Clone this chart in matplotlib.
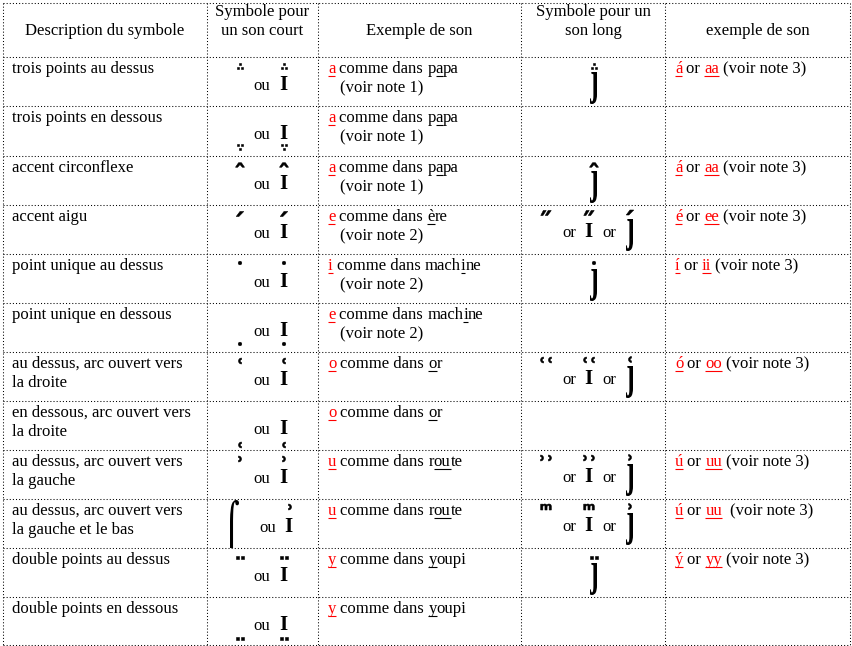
import matplotlib
matplotlib.use("Agg")
import matplotlib.pyplot as plt
from matplotlib.textpath import TextPath
from matplotlib.patches import PathPatch
from matplotlib.font_manager import FontProperties
from matplotlib.transforms import Affine2D

# --- contenu du tableau ---
headers = [["Description du symbole"], ["Symbole pour", "un son court"], ["Exemple de son"],
           ["Symbole pour un", "son long"], ["exemple de son"]]

descriptions = [
    ["trois points au dessus"],
    ["trois points en dessous"],
    ["accent circonflexe"],
    ["accent aigu"],
    ["point unique au dessus"],
    ["point unique en dessous"],
    ["au dessus, arc ouvert vers", "la droite"],
    ["en dessous, arc ouvert vers", "la droite"],
    ["au dessus, arc ouvert vers", "la gauche"],
    ["au dessus, arc ouvert vers", "la gauche et le bas"],
    ["double points au dessus"],
    ["double points en dessous"],
]

short_marks = ["∴", "∵", "ˆ", "ˊ", "•", "•", "ʿ", "ʿ", "ʾ", "ʾ", "¨", "¨"]
short_below = [False, True, False, False, False, True, False, True, False, False, False, True]

sound_letters = ["a", "a", "a", "e", "i", "e", "o", "o", "u", "u", "y", "y"]
# mot exemple : (avant, partie soulignée, après)
sound_words = [("p", "a", "pa"), ("p", "a", "pa"), ("p", "a", "pa"), ("", "è", "re"),
               ("mach", "i", "ne"), ("mach", "i", "ne"), ("", "o", "r"), ("", "o", "r"),
               ("r", "ou", "te"), ("r", "ou", "te"), ("", "y", "oupi"), ("", "y", "oupi")]
sound_notes = ["1", "1", "1", "2", "2", "2", None, None, None, None, None, None]

# forme longue : "j" seul, "triple" (x or I or j) ou rien
long_kind = ["j", None, "j", "triple", "j", None, "triple", None, "triple", "triple", "j", None]
long_marks = ["∴", None, "ˆ", "˝", "•", None, "ʿʿ", None, "ʾʾ", "ᵐ", "¨", None]
long_j_marks = ["∴", None, "ˆ", "ˊ", "•", None, "ʿ", None, "ʾ", "ʾ", "¨", None]
long_single = ["á", None, "á", "é", "í", None, "ó", None, "ú", "ú", "ý", None]
long_double = ["aa", None, "aa", "ee", "ii", None, "oo", None, "uu", "uu", "yy", None]

col_edges = [3, 207, 318, 521, 665, 850]
row_edges = [3, 57, 106, 156, 205, 254, 303, 352, 401, 450, 499, 548, 597, 645]

# hauteur (px) de chaque signe diacritique
mark_h = {"∴": 6, "∵": 6, "ˆ": 4.5, "ˊ": 5, "•": 3.5, "ʿ": 6, "ʾ": 6, "¨": 3,
          "˝": 5, "ʿʿ": 6, "ʾʾ": 6, "ᵐ": 6}

SERIF = ["Liberation Serif", "DejaVu Sans"]
MARKF = "DejaVu Sans"
FS = 12
RED = "#ff0000"

W, H = 853, 646
fig = plt.figure(figsize=(W / 100, H / 100), dpi=100)
ax = fig.add_axes([0, 0, 1, 1])
ax.set_xlim(0, W)
ax.set_ylim(H, 0)
ax.axis("off")
renderer = fig.canvas.get_renderer()


def width(s):
    t = ax.text(0, 0, "|" + s + "|", fontsize=FS, family=SERIF)
    w1 = t.get_window_extent(renderer).width
    t.remove()
    t = ax.text(0, 0, "||", fontsize=FS, family=SERIF)
    w0 = t.get_window_extent(renderer).width
    t.remove()
    return w1 - w0


def runs(x, y, parts):
    for s, c, ul in parts:
        if s == "":
            continue
        lead = len(s) - len(s.lstrip())
        xd = x + (width(s[:lead]) if lead else 0)
        ax.text(xd, y, s.lstrip(), fontsize=FS, family=SERIF, color=c, va="baseline", ha="left")
        w = width(s)
        if ul:
            ax.plot([xd, x + w], [y + 2.5, y + 2.5], color=c, lw=0.8, solid_capstyle="butt")
        x += w


def glyph_path(s, family, weight):
    tp = TextPath((0, 0), s, size=100, prop=FontProperties(family=family, weight=weight))
    return tp, tp.get_extents()


def tall(s, box, family, weight="bold"):
    tp, ext = glyph_path(s, family, weight)
    x0, y0, x1, y1 = box
    tr = (Affine2D().translate(-ext.x0, -ext.y1)
          .scale((x1 - x0) / ext.width, -(y1 - y0) / ext.height).translate(x0, y0))
    ax.add_patch(PathPatch(tr.transform_path(tp), fc="black", lw=0))


def mark(s, cx, cy):
    tp, ext = glyph_path(s, MARKF, "bold")
    k = mark_h[s] / ext.height
    tr = (Affine2D().translate(-(ext.x0 + ext.x1) / 2, -(ext.y0 + ext.y1) / 2)
          .scale(k, -k).translate(cx, cy))
    ax.add_patch(PathPatch(tr.transform_path(tp), fc="black", ec="black", lw=0.4))


def bold_i(x, y):
    ax.text(x, y, "I", fontsize=15, family=SERIF, weight="bold", ha="center", va="baseline")


def word(s, x, y):
    ax.text(x, y, s, fontsize=FS, family=SERIF, ha="center", va="baseline")


# grille pointillée
for x in col_edges:
    ax.plot([x, x], [row_edges[0], row_edges[-1]], color="black", lw=0.75, ls=(0, (1, 2)))
for y in row_edges:
    ax.plot([col_edges[0], col_edges[-1]], [y, y], color="black", lw=0.75, ls=(0, (1, 2)))

# en-têtes
for i, lines in enumerate(headers):
    cx = (col_edges[i] + col_edges[i + 1]) / 2
    for k, line in enumerate(lines):
        y = 35 - 18.5 * (len(lines) - 1 - k)
        ax.text(cx, y, line, fontsize=FS, family=SERIF, ha="center", va="baseline")

for r in range(12):
    top = row_edges[r + 1]
    # description
    for k, line in enumerate(descriptions[r]):
        ax.text(12, top + 16 + 19 * k, line, fontsize=FS, family=SERIF, va="baseline")

    # symbole court
    if short_below[r]:
        my = top + 44 if short_marks[r] == "ʿ" else top + 41
    else:
        my = top + 9
    if r == 9:
        tall("⌠", (230, top + 1, 239, top + 49), MARKF, "normal")
        word("ou", 268, top + 33)
        bold_i(288, top + 33)
        mark("ʾ", 290, top + 8)
    else:
        mark(short_marks[r], 240, my)
        word("ou", 262, top + 33)
        bold_i(283, top + 33)
        mark(short_marks[r], 284, my)

    # exemple de son
    pre, ul, post = sound_words[r]
    runs(328, top + 16, [(sound_letters[r], RED, True), (" comme dans ", "black", False),
                         (pre, "black", False), (ul, "black", True), (post, "black", False)])
    if sound_notes[r]:
        runs(340, top + 35, [("(voir note " + sound_notes[r] + ")", "black", False)])

    # symbole long
    if long_kind[r] == "j":
        tall("ȷ", (590, top + 15, 597, top + 47), SERIF)
        mark(long_marks[r], 594, top + 9)
    elif long_kind[r] == "triple":
        mark(long_marks[r], 546, top + 8)
        word("or", 569, top + 32)
        bold_i(588, top + 32)
        mark(long_marks[r], 589, top + 8)
        word("or", 609, top + 32)
        tall("ȷ", (626, top + 14, 633, top + 46), SERIF)
        mark(long_j_marks[r], 630, top + 7.5)

    # exemple long
    if long_single[r]:
        gap = "  (voir note 3)" if r == 9 else " (voir note 3)"
        runs(675, top + 16, [(long_single[r], RED, True), (" or ", "black", False),
                             (long_double[r], RED, True), (gap, "black", False)])

fig.savefig("out.png", dpi=100)
